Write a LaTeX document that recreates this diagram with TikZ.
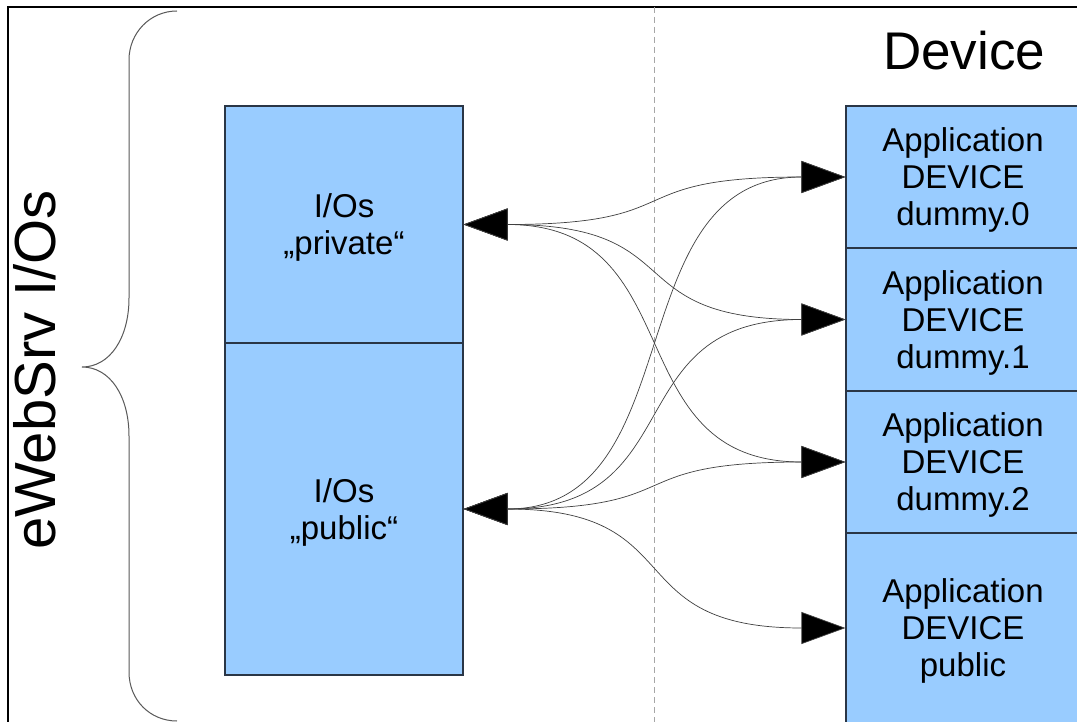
\documentclass[tikz,border=0pt]{standalone}
\usepackage{fontspec}
\setmainfont{Liberation Sans}
\usetikzlibrary{arrows.meta}
\definecolor{boxfill}{HTML}{99CCFF}
\definecolor{boxline}{HTML}{2A3646}
\tikzset{
  blk/.style={draw=boxline, line width=0.6pt, fill=boxfill, inner sep=0pt, align=center,
     font=\fontsize{16.5}{18.5}\selectfont},
  txt/.style={inner sep=0pt, align=center, yshift=-1.7pt, font=\fontsize{16.5}{18.5}\selectfont},
  conn/.style={draw=black!75, line width=0.35pt,
     {Triangle[length=22pt,width=16pt,fill=black]}-{Triangle[length=22pt,width=16pt,fill=black]}},
}
\begin{document}
\begin{tikzpicture}[x=0.5pt,y=-0.5pt]
\useasboundingbox (0,0) rectangle (1077,722);
\fill[white] (0,0) rectangle (1077,722);
\begin{scope}
\clip (0,0) rectangle (1077,722);
% frame
\draw[line width=0.9pt] (8,730) -- (8,7) -- (1090,7);
% dashed separator
\draw[gray!70, dashed, line width=0.4pt, dash pattern=on 3pt off 2pt] (654,7) -- (654,722);
% brace
\draw[black!65, line width=0.5pt] (177,11) .. controls (150,11) and (129,33) .. (129,60)
  -- (129,298) .. controls (129,338) and (110,367) .. (82,367)
  .. controls (110,367) and (129,396) .. (129,436)
  -- (129,672) .. controls (129,700) and (150,721) .. (177,721);
% left boxes
\node[blk, minimum width=119pt, minimum height=118.5pt] (priv) at (344,224.5) {};
\node[blk, minimum width=119pt, minimum height=166pt] (pub) at (344,509) {};
% right boxes
\node[blk, minimum width=117pt, minimum height=71pt] (d0) at (963,177) {};
\node[blk, minimum width=117pt, minimum height=71.5pt] (d1) at (963,319.5) {};
\node[blk, minimum width=117pt, minimum height=71pt] (d2) at (963,462) {};
\node[blk, minimum width=117pt, minimum height=95pt] (dp) at (963,628) {};
% box texts
\node[txt] (privt) at (priv.center) {I/Os\\„private“};
\node[txt] (pubt) at (pub.center) {I/Os\\„public“};
\node[txt] (d0t) at (d0.center) {Application\\DEVICE\\dummy.0};
\node[txt] (d1t) at (d1.center) {Application\\DEVICE\\dummy.1};
\node[txt] (d2t) at (d2.center) {Application\\DEVICE\\dummy.2};
\node[txt] (dpt) at (dp.center) {Application\\DEVICE\\public};
% connectors
\draw[conn] (priv.east) .. controls +(230,0) and +(-230,0) .. (d0.west);
\draw[conn] (priv.east) .. controls +(230,0) and +(-230,0) .. (d1.west);
\draw[conn] (priv.east) .. controls +(230,0) and +(-230,0) .. (d2.west);
\draw[conn] (pub.east) .. controls +(230,0) and +(-230,0) .. (d0.west);
\draw[conn] (pub.east) .. controls +(230,0) and +(-230,0) .. (d1.west);
\draw[conn] (pub.east) .. controls +(230,0) and +(-230,0) .. (d2.west);
\draw[conn] (pub.east) .. controls +(230,0) and +(-230,0) .. (dp.west);
\end{scope}
% titles
\node[anchor=base, inner sep=0pt, font=\fontsize{26.5}{30}\selectfont] (dev) at (964,70) {Device};
\node[anchor=base, rotate=90, inner sep=0pt, font=\fontsize{29}{33}\selectfont] (ews) at (55,370) {eWebSrv I/Os};
\end{tikzpicture}
\end{document}
